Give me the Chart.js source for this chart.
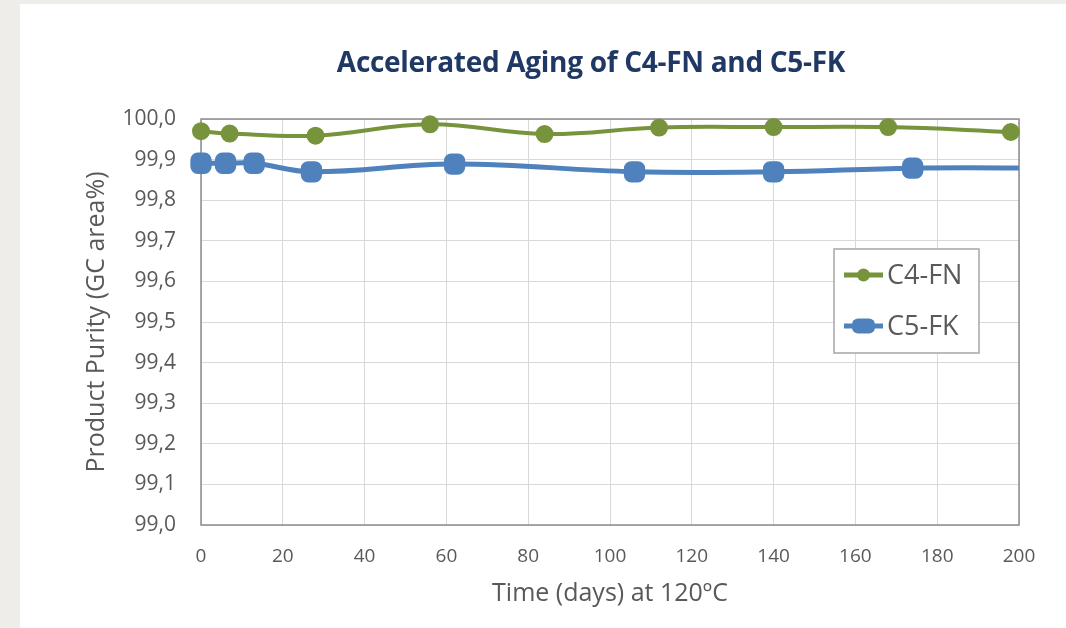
<!DOCTYPE html>
<html>
<head>
<meta charset="utf-8">
<script src="https://cdn.jsdelivr.net/npm/chart.js@4"></script>
<style>
  html, body { margin: 0; padding: 0; background: #eeede9; }
  body { width: 1066px; height: 628px; position: relative; overflow: hidden; }
  #panel { position: absolute; left: 20px; top: 4px; width: 1046px; height: 624px; background: #fff; }
  #myChart { position: absolute; left: 0; top: 0; }
  #title {
    position: absolute; left: 571px; top: 43px; transform: translateX(-50%);
    font: bold 28px "Open Sans", sans-serif;
    line-height: 28px; color: #1f3864; white-space: nowrap; letter-spacing: -0.3px;
  }
</style>
</head>
<body>
<div id="panel">
  <canvas id="myChart" width="1046" height="624"></canvas>
  <div id="title">Accelerated Aging of C4-FN and C5-FK</div>
</div>
<script>
  var c4Days = [0, 7, 28, 56, 84, 112, 140, 168, 198];
  var c4Purity = [99.970, 99.964, 99.959, 99.987, 99.963, 99.979, 99.980, 99.980, 99.968];
  var c5Days = [0, 6, 13, 27, 62, 106, 140, 174, 210];
  var c5Purity = [99.891, 99.891, 99.891, 99.870, 99.889, 99.870, 99.870, 99.879, 99.879];
  var yTickLabels = ['99,0', '99,1', '99,2', '99,3', '99,4', '99,5', '99,6', '99,7', '99,8', '99,9', '100,0'];
  var xTickLabels = ['0', '20', '40', '60', '80', '100', '120', '140', '160', '180', '200'];

  var green = '#77933c';
  var blue = '#4f81bd';
  var textGray = '#595959';

  function toPoints(xs, ys) {
    return xs.map(function (x, i) { return { x: x, y: ys[i] }; });
  }

  // plot frame, drawn under the lines
  var frame = {
    id: 'frame',
    beforeDatasetsDraw: function (chart) {
      var a = chart.chartArea, c = chart.ctx;
      c.save();
      c.strokeStyle = '#8c8c8c';
      c.lineWidth = 1.5;
      c.strokeRect(a.left, a.top, a.right - a.left, a.bottom - a.top);
      c.restore();
    }
  };

  // legend box inside the plot
  var boxLegend = {
    id: 'boxLegend',
    afterDraw: function (chart) {
      var a = chart.chartArea, c = chart.ctx;
      var x0 = a.right - 185, y0 = a.top + 130, w = 145, h = 104;
      c.save();
      c.fillStyle = '#fff';
      c.fillRect(x0, y0, w, h);
      c.strokeStyle = '#a6a6a6';
      c.lineWidth = 1.5;
      c.strokeRect(x0, y0, w, h);
      chart.data.datasets.forEach(function (ds, i) {
        var cy = y0 + 26 + i * 51;
        c.strokeStyle = ds.borderColor;
        c.lineWidth = 5;
        c.beginPath();
        c.moveTo(x0 + 10, cy);
        c.lineTo(x0 + 49, cy);
        c.stroke();
        c.fillStyle = ds.borderColor;
        c.beginPath();
        if (i === 0) {
          c.arc(x0 + 29.5, cy, 6.5, 0, Math.PI * 2);
        } else {
          c.roundRect(x0 + 18, cy - 7.5, 23, 15, 6);
        }
        c.fill();
        c.fillStyle = textGray;
        c.font = '27px "Open Sans"';
        c.textBaseline = 'middle';
        c.fillText(ds.label, x0 + 53, cy + 1);
      });
      c.restore();
    }
  };

  var ctx = document.getElementById('myChart');

  new Chart(ctx, {
    type: 'line',
    data: {
      datasets: [{
        label: 'C4-FN',
        data: toPoints(c4Days, c4Purity),
        borderColor: green,
        backgroundColor: green,
        borderWidth: 4,
        pointStyle: 'circle',
        pointRadius: 7,
        pointHoverRadius: 7,
        tension: 0.4,
        clip: { left: 20, top: 20, right: 20, bottom: 20 }
      },
      {
        label: 'C5-FK',
        data: toPoints(c5Days, c5Purity),
        borderColor: blue,
        backgroundColor: blue,
        borderWidth: 5,
        pointStyle: 'rectRounded',
        pointRadius: 9.5,
        pointHoverRadius: 9.5,
        tension: 0.4,
        clip: { left: 20, top: 20, right: 0, bottom: 20 }
      }]
    },
    options: {
      responsive: false,
      animation: false,
      layout: { padding: { top: 115, right: 47, bottom: 20, left: 62 } },
      plugins: {
        legend: { display: false },
        title: { display: false },
        tooltip: { enabled: false }
      },
      scales: {
        x: {
          type: 'linear',
          min: 0,
          max: 200,
          afterFit: function (s) { s.height = 83; },
          grid: { color: '#d9d9d9', lineWidth: 1, drawTicks: false },
          border: { display: false },
          ticks: {
            stepSize: 20,
            padding: 20,
            color: textGray,
            font: { family: 'Open Sans', size: 19 },
            callback: function (v) { return xTickLabels[Math.round(v / 20)]; }
          },
          title: {
            display: true,
            text: 'Time (days) at 120ºC',
            color: textGray,
            font: { family: 'Open Sans', size: 25 },
            padding: { top: 0, bottom: -1 }
          }
        },
        y: {
          min: 99,
          max: 100,
          afterFit: function (s) { s.width = 119; },
          grid: { color: '#d9d9d9', lineWidth: 1, drawTicks: false },
          border: { display: false },
          ticks: {
            stepSize: 0.1,
            padding: 25,
            color: textGray,
            font: { family: 'Open Sans', size: 21 },
            callback: function (v) { return yTickLabels[Math.round((v - 99) * 10)]; }
          },
          title: {
            display: true,
            text: 'Product Purity (GC area%)',
            color: textGray,
            font: { family: 'Open Sans', size: 25 },
            padding: { top: 0, bottom: 0 }
          }
        }
      }
    },
    plugins: [frame, boxLegend]
  });
</script>
</body>
</html>
